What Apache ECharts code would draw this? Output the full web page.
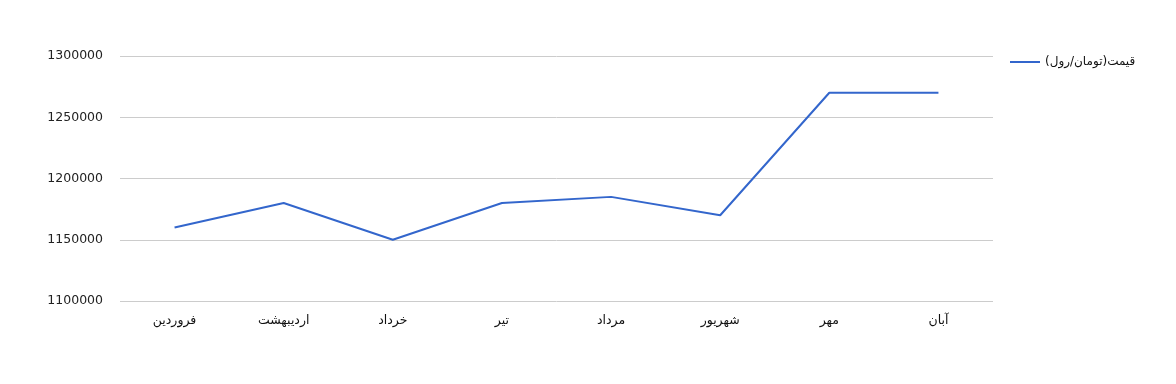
<!DOCTYPE html>
<html><head><meta charset="utf-8">
<script src="https://cdn.jsdelivr.net/npm/echarts@6/dist/echarts.min.js"></script>
<style>html,body{margin:0;padding:0;background:#fff}#c{width:1176px;height:384px}</style>
</head><body><div id="c"></div>
<script>
const categories = ["فروردین","اردیبهشت","خرداد","تیر","مرداد","شهریور","مهر","آبان"];
const seriesName = "قیمت(تومان/رول)";
const prices = [1160000,1180000,1150000,1180000,1185000,1170000,1270000,1270000];
const yTicks = {min:1100000, max:1300000, interval:50000};
const chart = echarts.init(document.getElementById('c'));
const font = "Tahoma, 'DejaVu Sans', 'Noto Sans', sans-serif";
chart.setOption({
  animation:false,
  textStyle:{fontFamily:font},
  grid:{left:120,right:183,top:56,bottom:83,containLabel:false},
  legend:{left:1005,top:51,orient:'vertical',itemWidth:30,itemHeight:2,itemGap:8,
    icon:'rect',textStyle:{fontSize:12,color:'#111',fontFamily:font},data:[seriesName]},
  xAxis:{type:'category',data:categories,boundaryGap:true,
    axisLine:{show:false},axisTick:{show:false},
    axisLabel:{fontSize:12.5,color:'#111',margin:13,fontFamily:font}},
  yAxis:{type:'value',min:yTicks.min,max:yTicks.max,interval:yTicks.interval,
    axisLine:{show:false},axisTick:{show:false},
    splitLine:{lineStyle:{color:'#cccccc'}},
    axisLabel:{fontSize:12.5,color:'#222',margin:17,fontFamily:font,formatter:v=>String(v)}},
  series:[{name:seriesName,type:'line',data:prices,symbol:'none',
    lineStyle:{color:'#3366cc',width:2},itemStyle:{color:'#3366cc'}}]
});
</script></body></html>
